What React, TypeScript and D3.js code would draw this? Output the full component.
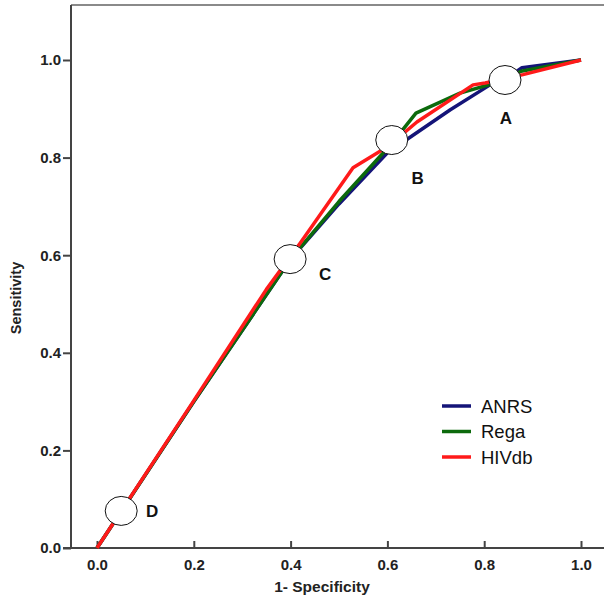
import React, { useEffect, useRef } from 'react';
import * as d3 from 'd3';

// ROC curves, values
const anrs: [number, number][] = [
  [0, 0], [0.2, 0.3], [0.4, 0.592], [0.5, 0.705], [0.6, 0.81], [0.73, 0.898],
  [0.812, 0.949], [0.84, 0.958], [0.878, 0.984], [1, 1],
];
const rega: [number, number][] = [
  [0, 0], [0.2, 0.3], [0.4, 0.592], [0.5, 0.71], [0.61, 0.83], [0.659, 0.891],
  [0.75, 0.932], [0.84, 0.958], [0.876, 0.977], [1, 1],
];
const hivdb: [number, number][] = [
  [0, 0], [0.2, 0.302], [0.35, 0.53], [0.42, 0.625], [0.529, 0.779], [0.6, 0.822],
  [0.661, 0.873], [0.777, 0.949], [0.802, 0.953], [0.88, 0.97], [1, 1],
];

const seriesNames = ['ANRS', 'Rega', 'HIVdb'];
const seriesColors = ['#141478', '#0c6a0c', '#ff1a1a'];

const markerLabels = ['A', 'B', 'C', 'D'];
const markerX = [0.843, 0.609, 0.399, 0.05];
const markerY = [0.959, 0.836, 0.592, 0.076];

const ticks = [0, 0.2, 0.4, 0.6, 0.8, 1.0];

const App = () => {
  const ref = useRef<SVGSVGElement>(null);

  useEffect(() => {
    if (!ref.current) return;
    const svg = d3.select(ref.current);
    svg.selectAll('*').remove();

    const x = d3.scaleLinear().domain([0, 1]).range([97, 581]);
    const y = d3.scaleLinear().domain([0, 1]).range([548, 60]);
    const font = 'Arial, "Liberation Sans", sans-serif';

    // top frame line
    svg.append('line')
      .attr('x1', 71).attr('x2', 604).attr('y1', 5).attr('y2', 5)
      .attr('stroke', '#8a8a8a').attr('stroke-width', 2);

    const xAxis = svg.append('g')
      .attr('transform', 'translate(0,548)')
      .call(d3.axisBottom(x).tickValues(ticks).tickFormat(d3.format('.1f')).tickSize(6).tickSizeOuter(0));
    xAxis.select('.domain').remove();
    svg.append('line')
      .attr('x1', 63).attr('x2', 604).attr('y1', 548).attr('y2', 548)
      .attr('stroke', '#444').attr('stroke-width', 2);

    const yAxis = svg.append('g')
      .attr('transform', 'translate(71,0)')
      .call(d3.axisLeft(y).tickValues(ticks).tickFormat(d3.format('.1f')).tickSize(8).tickSizeOuter(0));
    yAxis.select('.domain').remove();
    svg.append('line')
      .attr('x1', 71).attr('x2', 71).attr('y1', 5).attr('y2', 549)
      .attr('stroke', '#444').attr('stroke-width', 2);

    [xAxis, yAxis].forEach(g => {
      g.selectAll('line').attr('stroke', '#444').attr('stroke-width', 2);
      g.selectAll('text')
        .attr('fill', '#222')
        .style('font-family', font)
        .style('font-size', '15px')
        .style('font-weight', 'bold');
    });
    xAxis.selectAll('line').attr('y2', -7).attr('y1', 0);
    xAxis.selectAll('text').attr('y', 11);
    yAxis.selectAll('text').attr('x', -10);

    svg.append('text')
      .attr('x', 322).attr('y', 592)
      .attr('text-anchor', 'middle')
      .style('font-family', font).style('font-size', '15.5px').style('font-weight', 'bold')
      .attr('fill', '#222')
      .text('1- Specificity');

    svg.append('text')
      .attr('transform', 'translate(21,298) rotate(-90)')
      .attr('text-anchor', 'middle')
      .style('font-family', font).style('font-size', '14.5px').style('font-weight', 'bold')
      .attr('fill', '#222')
      .text('Sensitivity');

    const line = d3.line<[number, number]>()
      .x(d => x(d[0]))
      .y(d => y(d[1]));

    [anrs, rega, hivdb].forEach((data, i) => {
      svg.append('path')
        .datum(data)
        .attr('d', line)
        .attr('fill', 'none')
        .attr('stroke', seriesColors[i])
        .attr('stroke-width', 3.5)
        .attr('stroke-linejoin', 'round');
    });

    // markers
    markerLabels.forEach((lab, i) => {
      svg.append('ellipse')
        .attr('cx', x(markerX[i])).attr('cy', y(markerY[i]))
        .attr('rx', 16).attr('ry', 14.5)
        .attr('fill', '#fff').attr('stroke', '#111').attr('stroke-width', 1);
    });
    const labelDx = [1, 26, 35, 31];
    const labelDy = [44, 44, 21, 6];
    markerLabels.forEach((lab, i) => {
      svg.append('text')
        .attr('x', x(markerX[i]) + labelDx[i]).attr('y', y(markerY[i]) + labelDy[i])
        .attr('text-anchor', 'middle')
        .style('font-family', font).style('font-size', '17px').style('font-weight', 'bold')
        .attr('fill', '#111')
        .text(lab);
    });

    // legend
    seriesNames.forEach((name, i) => {
      const ly = 406 + i * 25.5;
      svg.append('line')
        .attr('x1', 442).attr('x2', 471).attr('y1', ly).attr('y2', ly)
        .attr('stroke', seriesColors[i]).attr('stroke-width', 3.5);
      svg.append('text')
        .attr('x', 481).attr('y', ly + 6.5)
        .style('font-family', font).style('font-size', '18.5px')
        .attr('fill', '#111')
        .text(name);
    });
  }, []);

  return (
    <svg ref={ref} width={604} height={598}
      style={{ position: 'absolute', left: 0, top: 0, background: '#fff' }} />
  );
};

export default App;
